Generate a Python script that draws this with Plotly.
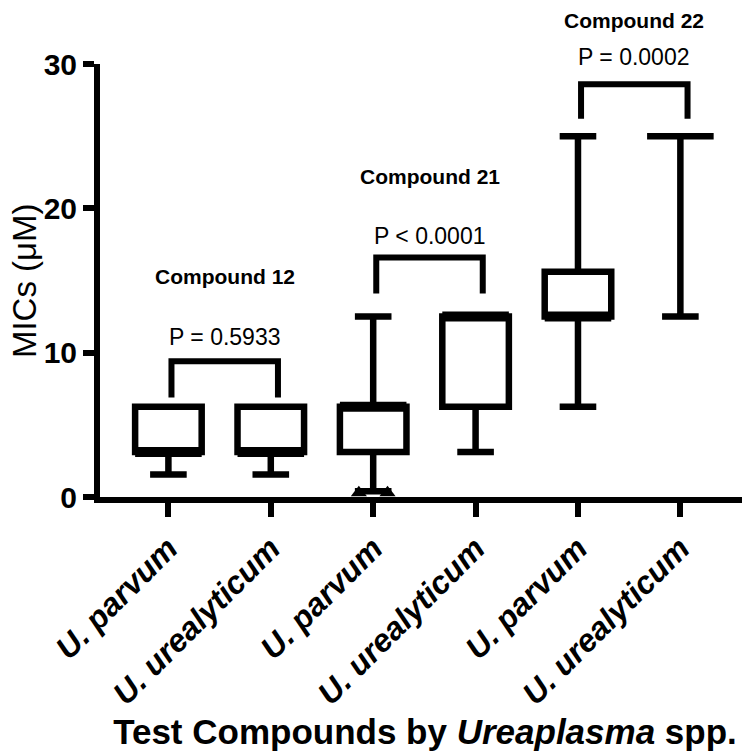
import plotly.graph_objects as go

# categories (one box per strain per compound)
labels = ["U. parvum", "U. urealyticum", "U. parvum", "U. urealyticum", "U. parvum", "U. urealyticum"]
pos = [0, 1, 2, 3, 4, 5]

# MIC summary values (µM)
low = [1.5625, 1.5625, 0.39, 3.125, 6.25, 12.5]
q1 = [3.125, 3.125, 3.125, 6.25, 12.5, 25]
med = [3.125, 3.125, 6.25, 12.5, 12.5, 25]
q3 = [6.25, 6.25, 6.25, 12.5, 15.6, 25]
high = [6.25, 6.25, 12.5, 12.5, 25, 25]

# low outliers drawn as triangles for C21 U. parvum
out_pos = [2, 2]
out_val = [0.3, 0.3]

# comparisons
compounds = ["Compound 12", "Compound 21", "Compound 22"]
p_text = ["P = 0.5933", "P < 0.0001", "P = 0.0002"]
pairs = [(0, 1), (2, 3), (4, 5)]
bracket_top = [9.4, 16.6, 28.6]
bracket_leg = [6.9, 14.1, 26.2]
p_y = [11.1, 18.1, 30.5]
comp_y = [15.3, 22.2, 33.0]

FONT = "Liberation Sans, Arial, Helvetica, sans-serif"
BOXW = 0.65
YMAX = 30

fig = go.Figure()
fig.add_trace(go.Box(
    x=pos, q1=q1, median=med, q3=q3, lowerfence=low, upperfence=high,
    orientation="v", boxpoints=False, fillcolor="white",
    line=dict(color="black", width=6.5), whiskerwidth=0.55,
    width=BOXW, showlegend=False, hoverinfo="skip",
))

# thicker median bars
for p, m, a, b in zip(pos, med, q1, q3):
    if a == b:
        continue
    fig.add_trace(go.Scatter(
        x=[p - BOXW / 2, p + BOXW / 2], y=[m, m], mode="lines",
        line=dict(color="black", width=10), showlegend=False, hoverinfo="skip",
    ))

fig.add_trace(go.Scatter(
    x=[p - 0.14 if i == 0 else p + 0.14 for i, p in enumerate(out_pos)], y=out_val,
    mode="markers", marker=dict(symbol="triangle-up", size=14, color="black"),
    cliponaxis=False, showlegend=False, hoverinfo="skip",
))

for (a, b), top, leg, pt, py, ct, cy in zip(pairs, bracket_top, bracket_leg, p_text, p_y, compounds, comp_y):
    xa, xb = pos[a] + 0.03, pos[b] + 0.07
    fig.add_trace(go.Scatter(
        x=[xa, xa, xb, xb], y=[leg, top, top, leg], mode="lines",
        line=dict(color="black", width=6), showlegend=False, hoverinfo="skip",
    ))
    mid = (xa + xb) / 2
    fig.add_annotation(x=mid, y=py / YMAX, yref="paper", yanchor="middle", text=pt,
                       showarrow=False, font=dict(size=23, color="black", family=FONT))
    fig.add_annotation(x=mid, y=cy / YMAX, yref="paper", yanchor="middle", text="<b>" + ct + "</b>",
                       showarrow=False, font=dict(size=21, color="black", family=FONT))

# y axis title as a rotated annotation so it can sit further left
fig.add_annotation(x=-0.116, y=0.5, xref="paper", yref="paper", xanchor="center", yanchor="middle",
                   text="MICs (μM)", textangle=-90, showarrow=False,
                   font=dict(size=33, color="black", family=FONT))

# page body adds an 8px offset, so the figure is sized a bit smaller
fig.update_layout(
    width=742, height=748,
    margin=dict(l=92, r=0, t=56, b=259),
    plot_bgcolor="white", paper_bgcolor="white",
    font=dict(family=FONT, color="black"),
    xaxis=dict(
        range=[-0.668, 5.68], tickvals=pos, ticktext=labels, tickangle=-45,
        tickfont=dict(size=32, weight="bold", style="italic"), automargin=False,
        showline=True, linewidth=6, linecolor="black", ticks="outside",
        ticklen=14, tickwidth=6, tickcolor="black", showgrid=False, zeroline=False,
        title=dict(text="<b>Test Compounds by <i>Ureaplasma</i> spp.</b>",
                   font=dict(size=35), standoff=4),
    ),
    yaxis=dict(
        range=[0, YMAX], tickvals=[0, 10, 20, 30], automargin=False,
        tickfont=dict(size=30, weight="bold"),
        showline=True, linewidth=6, linecolor="black", ticks="outside",
        ticklen=11, tickwidth=6, tickcolor="black", showgrid=False, zeroline=False,
    ),
)

fig.write_html("out.html")
